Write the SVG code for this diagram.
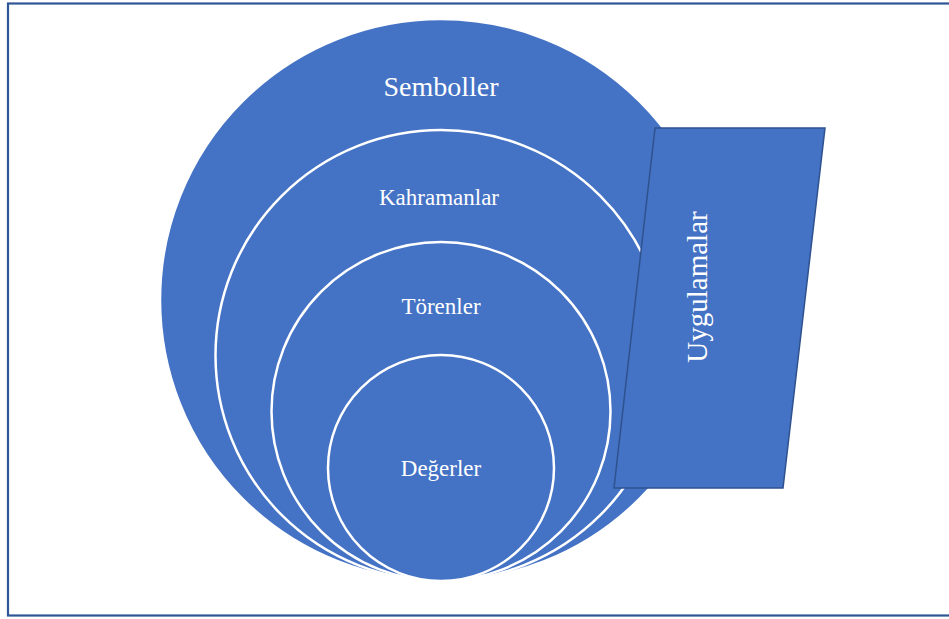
<svg xmlns="http://www.w3.org/2000/svg" width="949" height="619" viewBox="0 0 949 619">
<style>
.c{fill:#4472C4;stroke:#FFFFFF;stroke-width:2.5}
.t{fill:#FFFFFF;font-family:"Liberation Serif","Times New Roman",serif;text-anchor:middle}
</style>
<rect x="0" y="0" width="949" height="619" fill="#FFFFFF"/>
<rect x="8" y="3.5" width="960" height="612" fill="none" stroke="#2F5597" stroke-width="2.2"/>
<g id="semboller">
<circle class="c" cx="441" cy="300" r="281" stroke="none"/>
<text class="t" x="441" y="96" font-size="28">Semboller</text>
</g>
<g id="kahramanlar">
<circle class="c" cx="441" cy="355.5" r="225.5"/>
<text class="t" x="439" y="205" font-size="23">Kahramanlar</text>
</g>
<g id="torenler">
<circle class="c" cx="441" cy="411.5" r="169.5"/>
<text class="t" x="441" y="314" font-size="23">Törenler</text>
</g>
<g id="degerler">
<circle class="c" cx="441" cy="468" r="113"/>
<text class="t" x="441" y="476" font-size="23">Değerler</text>
</g>
<g id="uygulamalar">
<polygon points="655,128 825,128 783,488 614,488" fill="#4472C4" stroke="#2F528F" stroke-width="1.5"/>
<text class="t" font-size="29" transform="translate(707,287) rotate(-90)">Uygulamalar</text>
</g>
<g id="connectors"></g>
</svg>
